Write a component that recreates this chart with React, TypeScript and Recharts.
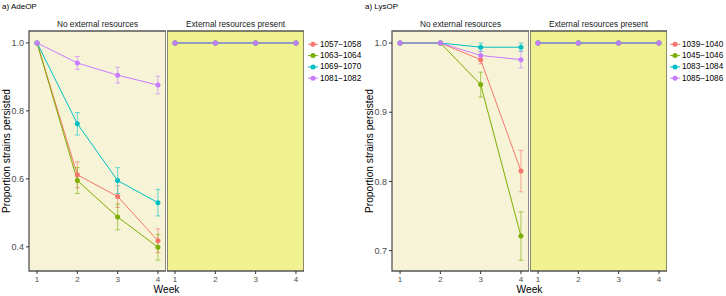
import React from "react";
import {
  LineChart,
  Line,
  XAxis,
  YAxis,
  ErrorBar,
  ReferenceArea,
  Label,
} from "recharts";

const weeks = [1, 2, 3, 4];
const colors = ["#F8766D", "#7CAE00", "#00BFC4", "#C77CFF"];

// AdeOP panel
const adeStrains = ["1057\u22121058", "1063\u22121064", "1069\u22121070", "1081\u22121082"];
const ade1057 = [1.0, 0.612, 0.548, 0.418];
const ade1057Err = [null, 0.038, 0.032, 0.035];
const ade1063 = [1.0, 0.595, 0.488, 0.399];
const ade1063Err = [null, 0.038, 0.038, 0.038];
const ade1069 = [1.0, 0.762, 0.595, 0.53];
const ade1069Err = [null, 0.033, 0.038, 0.039];
const ade1081 = [1.0, 0.941, 0.905, 0.876];
const ade1081Err = [null, 0.019, 0.023, 0.026];
const adeExternal = [1.0, 1.0, 1.0, 1.0];
const adeTicks = [0.4, 0.6, 0.8, 1.0];

// LysOP panel
const lysStrains = ["1039\u22121040", "1045\u22121046", "1083\u22121084", "1085\u22121086"];
const lys1039 = [1.0, 1.0, 0.976, 0.815];
const lys1039Err = [null, null, 0.006, 0.03];
const lys1045 = [1.0, 1.0, 0.94, 0.721];
const lys1045Err = [null, null, 0.018, 0.035];
const lys1083 = [1.0, 1.0, 0.994, 0.994];
const lys1083Err = [null, null, 0.006, 0.006];
const lys1085 = [1.0, 1.0, 0.982, 0.976];
const lys1085Err = [null, null, 0.006, 0.012];
const lysExternal = [1.0, 1.0, 1.0, 1.0];
const lysTicks = [0.7, 0.8, 0.9, 1.0];

const facetLabels = ["No external resources", "External resources present"];

const FONT = '"Liberation Sans", Arial, sans-serif';
const PLOT_W = 137;
const AXIS_W = 29;
const TOP = 31;
const X_H = 25;
const H = 296;

type Row = { [k: string]: number | null };

function buildRows(means: number[][], errs: (number | null)[][]): Row[] {
  return weeks.map((w, i) => {
    const row: Row = { week: w };
    means.forEach((m, s) => {
      row["s" + s] = m[i];
      row["e" + s] = errs[s] ? errs[s][i] : null;
    });
    return row;
  });
}

const adeNo = buildRows([ade1057, ade1063, ade1069, ade1081], [ade1057Err, ade1063Err, ade1069Err, ade1081Err]);
const adeYes = buildRows([adeExternal, adeExternal, adeExternal, adeExternal], []);
const lysNo = buildRows([lys1039, lys1045, lys1083, lys1085], [lys1039Err, lys1045Err, lys1083Err, lys1085Err]);
const lysYes = buildRows([lysExternal, lysExternal, lysExternal, lysExternal], []);

function Facet({
  plotX,
  data,
  domain,
  ticks,
  withAxis,
  bg,
}: {
  plotX: number;
  data: Row[];
  domain: [number, number];
  ticks: number[];
  withAxis: boolean;
  bg: string;
}) {
  const w = withAxis ? PLOT_W + AXIS_W : PLOT_W;
  return (
    <div style={{ position: "absolute", left: withAxis ? plotX - AXIS_W : plotX, top: 0 }}>
      <LineChart width={w} height={H} data={data} margin={{ top: TOP, right: 0, bottom: 0, left: 0 }}>
        <ReferenceArea
          x1={0.8}
          x2={4.2}
          y1={domain[0]}
          y2={domain[1]}
          fill={bg}
          fillOpacity={1}
          stroke="#555555"
          strokeWidth={1.3}
          ifOverflow="visible"
        />
        <XAxis
          dataKey="week"
          type="number"
          domain={[0.8, 4.2]}
          ticks={weeks}
          height={X_H}
          axisLine={false}
          tickSize={3}
          tickLine={{ stroke: "#333333" }}
          tick={{ fontSize: 8, fill: "#4D4D4D" }}
          interval={0}
        />
        <YAxis
          type="number"
          domain={domain}
          ticks={ticks}
          allowDataOverflow
          hide={!withAxis}
          width={AXIS_W}
          axisLine={false}
          tickSize={3}
          tickLine={{ stroke: "#333333" }}
          tick={{ fontSize: 9, fill: "#4D4D4D" }}
          tickFormatter={(v: number) => v.toFixed(1)}
        >
          {withAxis && (
            <Label
              value="Proportion strains persisted"
              angle={-90}
              position="insideLeft"
              offset={6}
              style={{ textAnchor: "middle", fontSize: 10.2, fill: "#000" }}
            />
          )}
        </YAxis>
        {colors.map((c, s) => (
          <Line
            key={s}
            dataKey={"s" + s}
            stroke={c}
            strokeWidth={1}
            dot={{ r: 2.5, fill: c, stroke: "none" }}
            activeDot={false}
            isAnimationActive={false}
          >
            <ErrorBar
              dataKey={"e" + s}
              direction="y"
              width={2.5}
              stroke={c}
              strokeOpacity={0.6}
              strokeWidth={1}
              isAnimationActive={false}
            />
          </Line>
        ))}
      </LineChart>
    </div>
  );
}

function Panel({
  x0,
  title,
  strains,
  noData,
  yesData,
  domain,
  ticks,
  legendX,
}: {
  x0: number;
  title: string;
  strains: string[];
  noData: Row[];
  yesData: Row[];
  domain: [number, number];
  ticks: number[];
  legendX: number;
}) {
  const aX = x0 + AXIS_W;
  const bX = aX + PLOT_W + 1;
  return (
    <>
      <Facet plotX={aX} data={noData} domain={domain} ticks={ticks} withAxis bg="#F6F3D7" />
      <Facet plotX={bX} data={yesData} domain={domain} ticks={ticks} withAxis={false} bg="#F0F191" />
      <svg
        width={726}
        height={H}
        style={{ position: "absolute", left: 0, top: 0, pointerEvents: "none" }}
      >
        <text x={x0 + 2} y={8.5} fontSize={8} fill="#000">
          {title}
        </text>
        <text x={aX + PLOT_W / 2} y={27} fontSize={8.3} fill="#1A1A1A" textAnchor="middle">
          {facetLabels[0]}
        </text>
        <text x={bX + PLOT_W / 2} y={27} fontSize={8.3} fill="#1A1A1A" textAnchor="middle">
          {facetLabels[1]}
        </text>
        <text x={(aX + bX + PLOT_W) / 2} y={293} fontSize={10.2} fill="#000" textAnchor="middle">
          Week
        </text>
        {strains.map((s, i) => {
          const y = 44.3 + i * 11.3;
          return (
            <g key={s}>
              <line x1={legendX} x2={legendX + 10} y1={y} y2={y} stroke={colors[i]} strokeWidth={1} />
              <circle cx={legendX + 5} cy={y} r={2.5} fill={colors[i]} />
              <text x={legendX + 12} y={y} fontSize={8.2} fill="#000" dominantBaseline="central">
                {s}
              </text>
            </g>
          );
        })}
      </svg>
    </>
  );
}

export default function App() {
  return (
    <div
      style={{
        position: "absolute",
        left: 0,
        top: 0,
        width: 726,
        height: 296,
        background: "#fff",
        fontFamily: FONT,
      }}
    >
      <Panel
        x0={0}
        title="a) AdeOP"
        strains={adeStrains}
        noData={adeNo}
        yesData={adeYes}
        domain={[0.329, 1.035]}
        ticks={adeTicks}
        legendX={308}
      />
      <Panel
        x0={363}
        title="a) LysOP"
        strains={lysStrains}
        noData={lysNo}
        yesData={lysYes}
        domain={[0.6706, 1.0174]}
        ticks={lysTicks}
        legendX={670}
      />
    </div>
  );
}
